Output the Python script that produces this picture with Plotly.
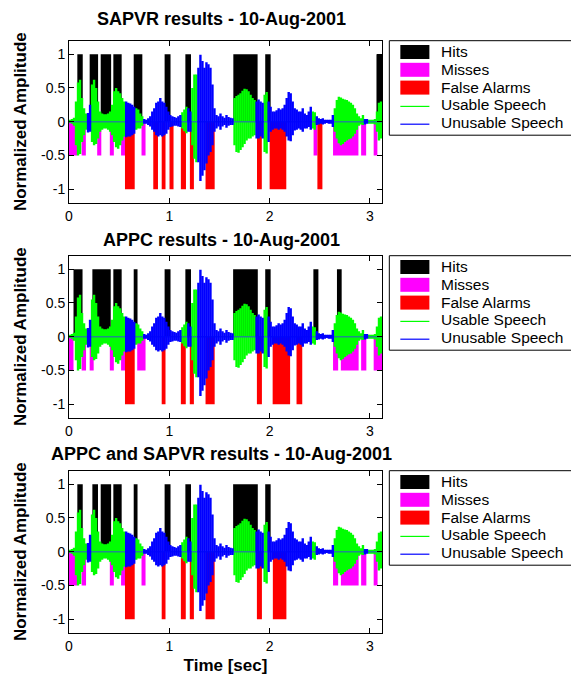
import plotly.graph_objects as go

# ------------------------------------------------------------------ data
BIN = 0.02  # seconds per envelope bin

# waveform envelope (upper / lower), one value per 20 ms bin
env_top = [
    0.03, 0.04, 0.06, 0.30, 0.58,   0.62, 0.35, 0.20, 0.12, 0.13,
    0.25, 0.55, 0.62, 0.50, 0.30,   0.15, 0.12, 0.11, 0.11, 0.12,
    0.15, 0.25, 0.45, 0.50, 0.45,   0.42, 0.35, 0.30, 0.30, 0.28,
    0.27, 0.25, 0.22, 0.20, 0.18,   0.12, 0.08, 0.04, 0.03, 0.05,
    0.08, 0.15, 0.20, 0.28, 0.30,   0.35, 0.30, 0.28, 0.22, 0.15,
    0.10, 0.08, 0.07, 0.06, 0.08,   0.10, 0.14, 0.18, 0.22, 0.20,
    0.15, 0.50, 0.70, 0.70, 0.80,   0.99, 0.90, 0.80, 0.88, 0.85,
    0.80, 0.55, 0.20, 0.10, 0.08,   0.12, 0.08, 0.06, 0.10, 0.07,
    0.06, 0.05, 0.35, 0.38, 0.40,   0.42, 0.46, 0.49, 0.48, 0.45,
    0.40, 0.35, 0.32, 0.30, 0.33,   0.30, 0.28, 0.40, 0.44, 0.30,
    0.22, 0.15, 0.15, 0.17, 0.20,   0.18, 0.20, 0.25, 0.35, 0.44,
    0.42, 0.30, 0.20, 0.18, 0.15,   0.15, 0.20, 0.12, 0.10, 0.15,
    0.22, 0.15, 0.14, 0.08, 0.05,   0.04, 0.05, 0.03, 0.03, 0.03,
    0.03, 0.10, 0.20, 0.32, 0.37,   0.36, 0.34, 0.33, 0.32, 0.30,
    0.28, 0.25, 0.20, 0.12, 0.08,   0.05, 0.10, 0.04, 0.04, 0.03,
    0.03, 0.03, 0.04, 0.15, 0.28, 0.30,
]
env_bot = [
    -0.02, -0.03, -0.06, -0.35, -0.50,   -0.48, -0.30, -0.20, -0.12, -0.16,
    -0.15, -0.30, -0.35, -0.33, -0.25,   -0.15, -0.12, -0.10, -0.10, -0.12,
    -0.15, -0.20, -0.30, -0.38, -0.40,   -0.35, -0.28, -0.22, -0.23, -0.22,
    -0.22, -0.20, -0.18, -0.12, -0.10,   -0.10, -0.06, -0.03, -0.03, -0.05,
    -0.07, -0.12, -0.15, -0.20, -0.22,   -0.20, -0.22, -0.20, -0.18, -0.12,
    -0.08, -0.07, -0.06, -0.06, -0.07,   -0.08, -0.10, -0.14, -0.17, -0.15,
    -0.15, -0.35, -0.55, -0.60, -0.60,   -0.88, -0.80, -0.72, -0.62, -0.50,
    -0.45, -0.35, -0.15, -0.10, -0.07,   -0.12, -0.07, -0.05, -0.09, -0.06,
    -0.05, -0.05, -0.35, -0.45, -0.46,   -0.42, -0.38, -0.33, -0.28, -0.25,
    -0.25, -0.22, -0.20, -0.25, -0.25,   -0.22, -0.25, -0.45, -0.47, -0.30,
    -0.15, -0.12, -0.10, -0.10, -0.12,   -0.10, -0.12, -0.15, -0.22, -0.28,
    -0.29, -0.20, -0.13, -0.12, -0.10,   -0.12, -0.15, -0.10, -0.10, -0.08,
    -0.12, -0.10, -0.12, -0.05, -0.04,   -0.03, -0.04, -0.03, -0.02, -0.03,
    -0.03, -0.08, -0.15, -0.25, -0.32,   -0.35, -0.33, -0.30, -0.28, -0.26,
    -0.25, -0.22, -0.18, -0.12, -0.06,   -0.04, -0.05, -0.04, -0.03, -0.03,
    -0.03, -0.03, -0.04, -0.15, -0.28, -0.25,
]
# 'g' = usable speech, 'b' = unusable speech
env_class = "".join([
    "ggggg", "ggggb", "bgggg", "ggggg", "ggggg", "gggbb", "bbbgg", "ggbbb",
    "bbbbb", "bbbbb", "bbbbb", "bgggb", "bgggb", "bbbbb", "bbbbb", "bbbbb",
    "bbggg", "ggggg", "gggbb", "bbggb", "bbbbb", "bbbbb", "bbbbb", "bbbbb",
    "bggbb", "bbbbb", "bbggg", "ggggg", "ggggg", "ggbbg", "gggggg",
])
assert len(env_top) == len(env_bot) == len(env_class)

# detection segments (start, end) in seconds
sapvr_hits = [(0.083, 0.137), (0.206, 0.290), (0.316, 0.420), (0.442, 0.525), (0.645, 0.731),
              (0.953, 1.012), (1.160, 1.216), (1.638, 1.880), (1.956, 2.010), (3.065, 3.12)]
sapvr_misses = [(0.0, 0.082), (0.126, 0.168), (0.281, 0.322), (0.407, 0.447), (0.519, 0.561),
                (0.723, 0.763), (2.438, 2.476), (2.632, 2.885), (2.912, 2.962), (3.037, 3.074)]
sapvr_fa = [(0.558, 0.655), (0.840, 0.887), (0.924, 0.962), (1.002, 1.042), (1.115, 1.166),
            (1.205, 1.245), (1.361, 1.452), (1.874, 1.922), (2.000, 2.166), (2.476, 2.526)]

appc_hits = [(0.045, 0.135), (0.233, 0.416), (0.442, 0.525), (0.645, 0.683), (0.953, 1.012),
             (1.160, 1.216), (1.636, 1.882), (1.956, 2.010), (2.436, 2.486), (2.671, 2.718)]
appc_misses = [(0.0, 0.045), (0.126, 0.170), (0.206, 0.246), (0.407, 0.447), (0.519, 0.561),
               (0.680, 0.763), (2.632, 2.683), (2.710, 2.887), (2.912, 2.964), (3.037, 3.12)]
appc_fa = [(0.558, 0.655), (0.924, 0.962), (1.115, 1.164), (1.204, 1.245), (1.361, 1.452),
           (1.873, 1.923), (2.030, 2.204), (2.268, 2.325)]

both_hits = [(0.083, 0.137), (0.233, 0.289), (0.316, 0.420), (0.442, 0.525), (0.645, 0.683),
             (0.953, 1.012), (1.160, 1.216), (1.636, 1.882), (1.956, 2.010)]
both_misses = [(0.0, 0.082), (0.126, 0.170), (0.407, 0.447), (0.519, 0.561), (0.723, 0.763),
               (2.632, 2.683), (2.710, 2.887), (2.912, 2.964), (3.037, 3.076)]
both_fa = [(0.558, 0.655), (0.924, 0.962), (1.115, 1.164), (1.204, 1.245), (1.361, 1.452),
           (1.873, 1.923), (2.032, 2.167)]

HIT_LEVEL, MISS_LEVEL, FA_LEVEL = 1.0, -0.5, -1.0

panel_titles = ["SAPVR results - 10-Aug-2001",
                "APPC results - 10-Aug-2001",
                "APPC and SAPVR results - 10-Aug-2001"]
panel_segments = [(sapvr_hits, sapvr_misses, sapvr_fa),
                  (appc_hits, appc_misses, appc_fa),
                  (both_hits, both_misses, both_fa)]

legend_names = ["Hits", "Misses", "False Alarms", "Usable Speech", "Unusable Speech"]

x_ticks = [0, 1, 2, 3]
y_ticks = [-1, -0.5, 0, 0.5, 1]
y_tick_text = ["-1", "-0.5", "0", "0.5", "1"]

# ------------------------------------------------------------------ styling
W, H = 571, 675
FONT = "Liberation Sans, Arial, sans-serif"
PLOT_L, PLOT_R = 69.3, 381.7
PANEL_TOPS = [40.7, 255.7, 470.7]
PANEL_H = 162.0
TITLE_Y = [19, 240, 454]
TITLE_X = 222
C_HIT, C_MISS, C_FA = "#000000", "#ff00ff", "#ff0000"
C_USE, C_UNUSE = "#00ff00", "#0000ff"
LEGEND_COLORS = [C_HIT, C_MISS, C_FA, C_USE, C_UNUSE]


def px_x(px):
    return (px - PLOT_L) / (PLOT_R - PLOT_L)


def px_y(py):
    return 1 - py / H


def seg_bars(segs):
    xs = [(a + b) / 2 for a, b in segs]
    ws = [b - a for a, b in segs]
    return xs, ws


def vlines(cls):
    xs, ys = [], []
    for i, c in enumerate(env_class):
        if c != cls:
            continue
        t = (i + 0.5) * BIN
        xs += [t, t, None]
        ys += [env_bot[i], env_top[i], None]
    return xs, ys


t_end = len(env_top) * BIN

fig = go.Figure()
for k in range(3):
    sfx = "" if k == 0 else str(k + 1)
    xa, ya = "x" + sfx, "y" + sfx
    hits, misses, fas = panel_segments[k]
    for segs, lvl, col, name in [(hits, HIT_LEVEL, C_HIT, legend_names[0]),
                                 (misses, MISS_LEVEL, C_MISS, legend_names[1]),
                                 (fas, FA_LEVEL, C_FA, legend_names[2])]:
        xs, ws = seg_bars(segs)
        fig.add_trace(go.Bar(x=xs, y=[lvl] * len(xs), width=ws, base=0,
                             marker=dict(color=col, line=dict(width=0)),
                             name=name, xaxis=xa, yaxis=ya, showlegend=False,
                             hoverinfo="skip"))
    gx, gy = vlines("g")
    fig.add_trace(go.Scatter(x=gx, y=gy, mode="lines",
                             line=dict(color=C_USE, width=2.4),
                             name=legend_names[3], xaxis=xa, yaxis=ya,
                             showlegend=False, hoverinfo="skip"))
    fig.add_trace(go.Scatter(x=[0, t_end], y=[0, 0], mode="lines",
                             line=dict(color="#1e8c8c", width=1.6),
                             showlegend=False, xaxis=xa, yaxis=ya, hoverinfo="skip"))
    bx, by = vlines("b")
    fig.add_trace(go.Scatter(x=bx, y=by, mode="lines",
                             line=dict(color=C_UNUSE, width=2.4),
                             name=legend_names[4], xaxis=xa, yaxis=ya,
                             showlegend=False, hoverinfo="skip"))

layout = dict(
    width=W, height=H,
    margin=dict(l=PLOT_L, r=W - PLOT_R, t=0, b=0, autoexpand=False),
    paper_bgcolor="white", plot_bgcolor="white",
    barmode="overlay", showlegend=False,
    font=dict(family=FONT, color="black", size=14),
    annotations=[], shapes=[],
)
LEG_L, LEG_R = 389, 600
SW_L, SW_R = 400, 429
TXT_L = 439
ROW0, ROW_STEP = 11.3, 17.8
for k in range(3):
    sfx = "" if k == 0 else str(k + 1)
    top = PANEL_TOPS[k]
    dom = [1 - (top + PANEL_H) / H, 1 - top / H]
    layout["xaxis" + sfx] = dict(
        domain=[0, 1], anchor="y" + sfx, range=[0, 3.12],
        tickvals=x_ticks, ticks="inside", ticklen=5, tickcolor="black",
        showline=True, linecolor="black", linewidth=1, mirror="ticks",
        showgrid=False, zeroline=False, tickfont=dict(size=14),
    )
    layout["yaxis" + sfx] = dict(
        domain=dom, anchor="x" + sfx, range=[-1.2, 1.2],
        tickvals=y_ticks, ticktext=y_tick_text, ticks="inside", ticklen=5,
        tickcolor="black", showline=True, linecolor="black", linewidth=1,
        mirror="ticks", showgrid=False, zeroline=False, tickfont=dict(size=14),
        title=dict(text="Normalized Amplitude", standoff=10,
                   font=dict(size=17, weight="bold")),
    )
    layout["annotations"].append(dict(
        text=panel_titles[k], x=px_x(TITLE_X), y=px_y(TITLE_Y[k]),
        xref="paper", yref="paper", xanchor="center", yanchor="middle",
        showarrow=False, font=dict(size=18, weight="bold"),
    ))
    # legend box
    leg_top = top
    leg_bot = top + ROW0 + 4 * ROW_STEP + 12
    layout["shapes"].append(dict(
        type="rect", xref="paper", yref="paper",
        x0=px_x(LEG_L), x1=px_x(LEG_R), y0=px_y(leg_bot), y1=px_y(leg_top),
        line=dict(color="black", width=1), fillcolor="white", layer="above",
    ))
    for j, (name, col) in enumerate(zip(legend_names, LEGEND_COLORS)):
        cy = top + ROW0 + j * ROW_STEP
        if j < 3:
            layout["shapes"].append(dict(
                type="rect", xref="paper", yref="paper",
                x0=px_x(SW_L), x1=px_x(SW_R), y0=px_y(cy + 7), y1=px_y(cy - 7),
                line=dict(width=0), fillcolor=col, layer="above",
            ))
        else:
            layout["shapes"].append(dict(
                type="line", xref="paper", yref="paper",
                x0=px_x(SW_L), x1=px_x(SW_R), y0=px_y(cy + 1), y1=px_y(cy + 1),
                line=dict(color=col, width=1.2), layer="above",
            ))
        layout["annotations"].append(dict(
            text=name, x=px_x(TXT_L), y=px_y(cy - 0.5),
            xref="paper", yref="paper", xanchor="left", yanchor="middle",
            showarrow=False, font=dict(size=15.5),
        ))
layout["xaxis3"]["title"] = dict(text="Time [sec]", standoff=6,
                                 font=dict(size=17, weight="bold"))
fig.update_layout(**layout)
fig.write_html("out.html")
